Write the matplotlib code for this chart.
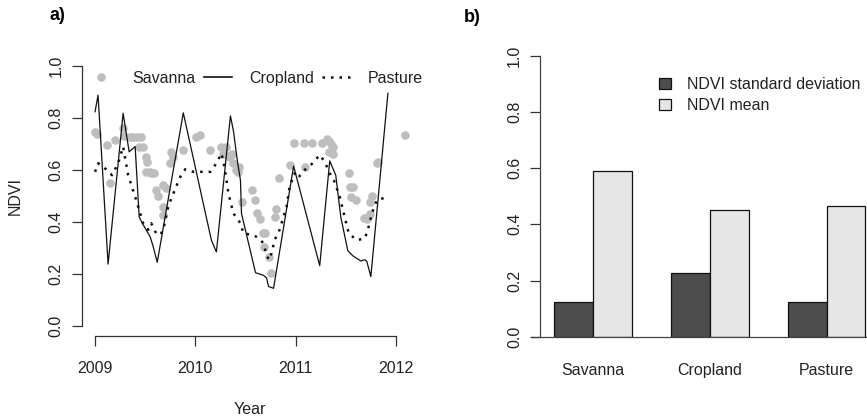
import numpy as np
import matplotlib.pyplot as plt
from matplotlib.lines import Line2D

plt.rcParams['font.family'] = ['Liberation Sans', 'DejaVu Sans']
plt.rcParams['font.size'] = 11.5

# ---- panel a: NDVI time series ----
crop_t = [2009.00, 2009.03, 2009.13, 2009.28, 2009.34, 2009.40, 2009.44, 2009.47,
          2009.55, 2009.58, 2009.62, 2009.88, 2010.16, 2010.21, 2010.35, 2010.38,
          2010.42, 2010.45, 2010.46, 2010.60, 2010.68, 2010.71, 2010.73, 2010.78,
          2010.98, 2011.24, 2011.34, 2011.40, 2011.45, 2011.52, 2011.57, 2011.65,
          2011.69, 2011.71, 2011.75, 2011.92]
crop_v = [0.824, 0.888, 0.238, 0.818, 0.670, 0.690, 0.420, 0.396,
          0.343, 0.305, 0.245, 0.820, 0.330, 0.285, 0.808, 0.750,
          0.632, 0.560, 0.433, 0.205, 0.195, 0.185, 0.152, 0.145,
          0.615, 0.232, 0.635, 0.580, 0.420, 0.290, 0.270, 0.250,
          0.255, 0.248, 0.190, 0.895]

past_t = [2009.00, 2009.03, 2009.12, 2009.17, 2009.23, 2009.28, 2009.33, 2009.40,
          2009.43, 2009.48, 2009.53, 2009.56, 2009.61, 2009.65, 2009.68, 2009.73,
          2009.76, 2009.85, 2009.90, 2009.98, 2010.05, 2010.15, 2010.21, 2010.26,
          2010.29, 2010.33, 2010.38, 2010.45, 2010.48, 2010.58, 2010.66, 2010.71,
          2010.73, 2010.76, 2010.79, 2010.84, 2010.91, 2010.94, 2010.99, 2011.02,
          2011.09, 2011.17, 2011.24, 2011.29, 2011.34, 2011.38, 2011.44, 2011.48,
          2011.53, 2011.61, 2011.69, 2011.72, 2011.76, 2011.81, 2011.87, 2011.92]
past_v = [0.593, 0.626, 0.600, 0.580, 0.626, 0.690, 0.580, 0.497,
          0.459, 0.395, 0.370, 0.395, 0.356, 0.350, 0.370, 0.459,
          0.490, 0.574, 0.603, 0.593, 0.593, 0.593, 0.626, 0.664,
          0.613, 0.510, 0.433, 0.395, 0.356, 0.350, 0.330, 0.280,
          0.254, 0.280, 0.330, 0.370, 0.459, 0.536, 0.587, 0.568,
          0.600, 0.626, 0.658, 0.632, 0.587, 0.562, 0.497, 0.433,
          0.356, 0.330, 0.337, 0.370, 0.433, 0.485, 0.491, 0.504]

sav_t = [2009.00, 2009.02, 2009.12, 2009.15, 2009.20, 2009.28, 2009.29, 2009.35,
         2009.38, 2009.42, 2009.46, 2009.44, 2009.48, 2009.51, 2009.52, 2009.55,
         2009.51, 2009.56, 2009.59, 2009.61, 2009.63, 2009.68, 2009.71, 2009.68,
         2009.68, 2009.75, 2009.76, 2009.78, 2009.88, 2010.01, 2010.05, 2010.15,
         2010.26, 2010.31, 2010.28, 2010.33, 2010.35, 2010.37, 2010.38, 2010.41,
         2010.43, 2010.44, 2010.47, 2010.56, 2010.59, 2010.61, 2010.64, 2010.67,
         2010.69, 2010.68, 2010.73, 2010.75, 2010.79, 2010.80, 2010.83, 2010.94,
         2010.98, 2011.08, 2011.09, 2011.16, 2011.26, 2011.31, 2011.33, 2011.35,
         2011.37, 2011.33, 2011.37, 2011.53, 2011.54, 2011.57, 2011.55, 2011.60,
         2011.68, 2011.71, 2011.72, 2011.74, 2011.74, 2011.76, 2011.81, 2011.82,
         2012.09]
sav_v = [0.747, 0.740, 0.696, 0.549, 0.715, 0.760, 0.730, 0.728,
         0.725, 0.728, 0.728, 0.690, 0.690, 0.651, 0.630, 0.593,
         0.593, 0.590, 0.590, 0.523, 0.500, 0.542, 0.530, 0.459,
         0.427, 0.626, 0.670, 0.650, 0.677, 0.728, 0.735, 0.677,
         0.690, 0.690, 0.660, 0.655, 0.650, 0.660, 0.626, 0.600,
         0.593, 0.610, 0.478, 0.523, 0.485, 0.433, 0.410, 0.356,
         0.356, 0.305, 0.266, 0.203, 0.420, 0.450, 0.568, 0.619,
         0.703, 0.703, 0.613, 0.703, 0.703, 0.720, 0.710, 0.700,
         0.690, 0.670, 0.660, 0.587, 0.536, 0.536, 0.497, 0.485,
         0.414, 0.410, 0.420, 0.430, 0.478, 0.500, 0.626, 0.632,
         0.735]

# ---- panel b: summary bars ----
classes = ['Savanna', 'Cropland', 'Pasture']
ndvi_sd = [0.122, 0.226, 0.122]
ndvi_mean = [0.590, 0.451, 0.466]

ink = '#222222'
fig = plt.figure(figsize=(8.67, 4.2), dpi=100)

ax1 = fig.add_axes([82 / 867, 1 - 336.4 / 420, 337 / 867, 280.8 / 420])
ax1.plot(sav_t, sav_v, 'o', color='#bebebe', ms=6.2, mec='none', zorder=1)
ax1.plot(crop_t, crop_v, '-', color='#111111', lw=0.9, zorder=2)
ax1.plot(past_t, past_v, color='#111111', lw=1.8, ls=(0, (1, 2.4)), zorder=3)
ax1.set_xlim(2008.87, 2012.23)
ax1.set_ylim(-0.04, 1.04)
for s in ['top', 'right']:
    ax1.spines[s].set_visible(False)
ax1.spines['left'].set_bounds(0, 1)
ax1.spines['bottom'].set_bounds(2009, 2012)
for s in ['left', 'bottom']:
    ax1.spines[s].set_color('#333333')
    ax1.spines[s].set_linewidth(0.9)
ax1.set_xticks([2009, 2010, 2011, 2012])
ax1.set_yticks([0.0, 0.2, 0.4, 0.6, 0.8, 1.0])
ax1.set_yticklabels(['0.0', '0.2', '0.4', '0.6', '0.8', '1.0'], rotation=90, va='center')
ax1.tick_params(axis='both', length=7.2, width=0.9, color='#333333', labelcolor=ink)
ax1.tick_params(axis='x', pad=10.5)
ax1.tick_params(axis='y', pad=6)

h_sav = Line2D([], [], ls='none', marker='o', color='#bebebe', ms=6.2, mec='none')
h_crop = Line2D([], [], color='#111111', lw=1.2)
h_past = Line2D([], [], color='#111111', lw=1.8, ls=(0, (1, 2.4)))
ax1.legend([h_sav, h_crop, h_past], ['Savanna', 'Cropland', 'Pasture'], ncol=3,
           frameon=False, loc='upper left', bbox_to_anchor=(0.015, 0.945),
           borderpad=0, borderaxespad=0, handlelength=1.8, handletextpad=1.05,
           columnspacing=0.5, labelcolor=ink)

fig.text(15 / 867, 1 - 196 / 420, 'NDVI', rotation=90, ha='center', va='center', color=ink)
fig.text(250 / 867, 1 - 409 / 420, 'Year', ha='center', va='center', color=ink)
fig.text(57 / 867, 1 - 16 / 420, 'a)', ha='center', va='center', fontsize=13, fontweight='bold')

# ---- panel b ----
ax2 = fig.add_axes([532 / 867, 1 - 336.7 / 420, 335 / 867, 281 / 420])
idx = np.arange(len(classes))
ax2.bar(1 + 3 * idx, ndvi_sd, width=1, align='edge', color='#4d4d4d',
        edgecolor='#111111', lw=0.9, label='NDVI standard deviation')
ax2.bar(2 + 3 * idx, ndvi_mean, width=1, align='edge', color='#e6e6e6',
        edgecolor='#111111', lw=0.9, label='NDVI mean')
ax2.set_xlim(0.435, 9.04)
ax2.set_ylim(0, 1)
for s in ['top', 'right']:
    ax2.spines[s].set_visible(False)
ax2.spines['left'].set_position(('data', 0.65))
ax2.spines['left'].set_bounds(0, 1)
for s in ['left', 'bottom']:
    ax2.spines[s].set_color('#444444')
    ax2.spines[s].set_linewidth(0.9)
ax2.spines['bottom'].set_zorder(5)
ax2.set_yticks([0.0, 0.2, 0.4, 0.6, 0.8, 1.0])
ax2.set_yticklabels(['0.0', '0.2', '0.4', '0.6', '0.8', '1.0'], rotation=90, va='center')
ax2.set_xticks(2 + 3 * idx)
ax2.set_xticklabels(classes)
ax2.tick_params(axis='y', length=7.2, width=0.9, color='#333333', labelcolor=ink, pad=6)
ax2.tick_params(axis='x', length=0, labelcolor=ink, pad=19)
ax2.legend(loc='upper left', bbox_to_anchor=(0.378, 0.925), frameon=False,
           borderpad=0, borderaxespad=0, handlelength=0.8, handleheight=0.7,
           handletextpad=0.95, labelspacing=0.42, labelcolor=ink)
fig.text(472 / 867, 1 - 17 / 420, 'b)', ha='center', va='center', fontsize=13, fontweight='bold')

fig.savefig('out.png', dpi=100)
